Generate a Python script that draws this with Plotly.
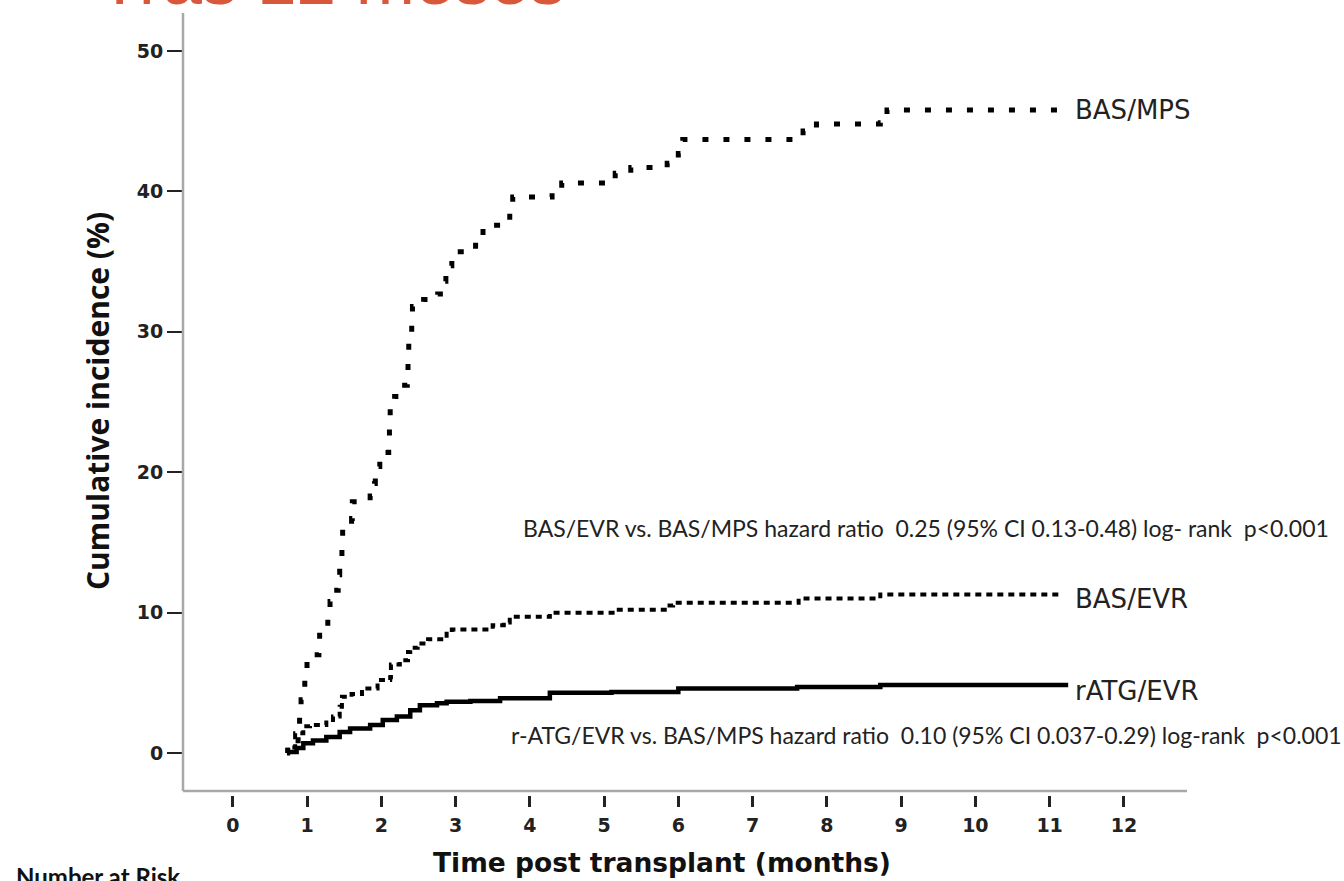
import plotly.graph_objects as go

# ---- data ----
mps_t = [0.73, 0.74, 0.88, 0.90, 0.92, 0.96, 0.97, 1.00, 1.16, 1.17, 1.28, 1.31, 1.40, 1.42,
         1.44, 1.47, 1.48, 1.60, 1.61, 1.85, 1.91, 1.92, 1.98, 2.10, 2.11, 2.12, 2.18, 2.28,
         2.35, 2.36, 2.37, 2.41, 2.42, 2.57, 2.76, 2.84, 2.87, 2.95, 3.27, 3.37, 3.73, 3.77,
         4.30, 4.43, 5.15, 5.36, 5.85, 6.00, 6.06, 7.68, 7.86, 8.72, 8.81, 11.20]
mps_v = [0.0, 0.7, 1.5, 2.6, 3.8, 4.7, 6.0, 7.0, 7.6, 8.8, 9.6, 10.8, 11.6, 12.7,
         13.9, 15.0, 16.1, 16.7, 17.9, 18.3, 19.2, 20.4, 21.4, 22.0, 23.2, 24.5, 25.4, 26.2,
         27.1, 28.4, 29.5, 30.6, 31.8, 32.3, 32.7, 33.6, 34.7, 35.7, 36.7, 37.6, 38.5, 39.6,
         40.0, 40.6, 41.3, 41.7, 42.0, 42.7, 43.7, 44.3, 44.8, 44.9, 45.8, 45.8]

evr_t = [0.73, 0.74, 0.84, 0.95, 1.04, 1.26, 1.35, 1.44, 1.47, 1.60, 1.74, 1.95, 2.12, 2.13,
         2.25, 2.36, 2.39, 2.49, 2.63, 2.88, 2.95, 3.50, 3.65, 3.73, 4.27, 5.17, 5.85, 5.93,
         7.62, 8.72, 11.15]
evr_v = [0.0, 0.4, 1.4, 1.9, 2.0, 2.35, 2.6, 3.3, 4.0, 4.2, 4.6, 5.2, 5.4, 6.3,
         6.6, 7.2, 7.5, 7.8, 8.1, 8.5, 8.8, 9.1, 9.3, 9.7, 10.0, 10.2, 10.5, 10.7,
         11.0, 11.3, 11.3]

atg_t = [0.73, 0.86, 0.95, 1.08, 1.26, 1.44, 1.58, 1.85, 2.02, 2.21, 2.39, 2.52, 2.75, 2.88,
         3.20, 3.60, 4.27, 5.10, 6.00, 7.60, 8.72, 11.25]
atg_v = [0.07, 0.35, 0.7, 0.9, 1.15, 1.5, 1.75, 2.0, 2.35, 2.6, 3.05, 3.4, 3.55, 3.65,
         3.7, 3.9, 4.3, 4.35, 4.6, 4.7, 4.85, 4.85]

series_names = ["BAS/MPS", "BAS/EVR", "rATG/EVR"]
x_ticks = list(range(0, 13))
y_ticks = [0, 10, 20, 30, 40, 50]

hr_text_1 = "BAS/EVR vs. BAS/MPS hazard ratio  0.25 (95% CI 0.13-0.48) log- rank  p<0.001"
hr_text_2 = "r-ATG/EVR vs. BAS/MPS hazard ratio  0.10 (95% CI 0.037-0.29) log-rank  p<0.001"
x_title = "Time post transplant (months)"
y_title = "Cumulative incidence (%)"
risk_label = "Number at Risk"
top_title = "Tras 12 meses"

# ---- figure ----
fig = go.Figure()
fig.add_trace(go.Scatter(x=mps_t, y=mps_v, mode="lines", line_shape="hv", name=series_names[0],
                         line=dict(color="black", width=5, dash="6px,15px")))
fig.add_trace(go.Scatter(x=evr_t, y=evr_v, mode="lines", line_shape="hv", name=series_names[1],
                         line=dict(color="black", width=4, dash="6px,5px")))
fig.add_trace(go.Scatter(x=atg_t, y=atg_v, mode="lines", line_shape="hv", name=series_names[2],
                         line=dict(color="black", width=4.5)))

W, H = 1344, 881
ml, mr, mt, mb = 183, 157, 13, 86
pw, ph = W - ml - mr, H - mt - mb


def px(x):
    return (x - ml) / pw


def py(y):
    return (H - mb - y) / ph


tickfont = dict(family="DejaVu Sans", size=19, color="#222222", weight="bold")

fig.update_layout(
    width=W, height=H, margin=dict(l=ml, r=mr, t=mt, b=mb),
    paper_bgcolor="white", plot_bgcolor="white", showlegend=False,
    xaxis=dict(range=[-0.67, 12.85], tickvals=x_ticks, ticks="outside", ticklen=11, tickwidth=3,
               tickcolor="#222222", showline=False, showgrid=False, zeroline=False,
               tickfont=tickfont, ticklabelstandoff=2),
    yaxis=dict(range=[-2.99, 52.71], tickvals=y_ticks, ticks="outside", ticklen=15, tickwidth=2,
               tickcolor="#222222", showline=False, showgrid=False, zeroline=False,
               tickfont=tickfont),
)

# axis lines (grey), x line slightly above the tick marks
axis_y = py(791)
fig.add_shape(type="line", xref="paper", yref="paper", x0=0, x1=1, y0=axis_y, y1=axis_y,
              line=dict(color="#a8a8a8", width=2.5))
fig.add_shape(type="line", xref="paper", yref="paper", x0=0, x1=0, y0=axis_y, y1=1,
              line=dict(color="#a8a8a8", width=2.5))

label_font = dict(family="DejaVu Sans", size=26, color="#222222")
label_y = [mps_v[-1], 11.0, 4.4]
for name, yv in zip(series_names, label_y):
    fig.add_annotation(x=11.32, y=yv, xref="x", yref="y", text=name, showarrow=False,
                       xanchor="left", yanchor="middle", font=label_font)

hr_font = dict(family="Lato", size=23, color="#222222")
fig.add_annotation(x=px(521), y=py(528), xref="paper", yref="paper", text=hr_text_1,
                   showarrow=False, xanchor="left", yanchor="middle", font=hr_font)
fig.add_annotation(x=px(509), y=py(735), xref="paper", yref="paper", text=hr_text_2,
                   showarrow=False, xanchor="left", yanchor="middle", font=hr_font)

fig.add_annotation(x=px(662), y=py(862), xref="paper", yref="paper", text=x_title,
                   showarrow=False, xanchor="center", yanchor="middle",
                   font=dict(family="DejaVu Sans", size=26.5, color="#111111", weight="bold"))
fig.add_annotation(x=px(97), y=py(401), xref="paper", yref="paper", text=y_title,
                   showarrow=False, xanchor="center", yanchor="middle", textangle=-90,
                   font=dict(family="Open Sans", size=30, color="#111111", weight="bold"))
fig.add_annotation(x=px(14), y=py(876), xref="paper", yref="paper", text=risk_label,
                   showarrow=False, xanchor="left", yanchor="middle",
                   font=dict(family="Lato", size=24, color="#111111", weight="bold"))
fig.add_annotation(x=px(567), y=py(21), xref="paper", yref="paper", text=top_title,
                   showarrow=False, xanchor="right", yanchor="bottom",
                   font=dict(family="Liberation Sans", size=71, color="#d9573b"))

fig.write_html("out.html")
